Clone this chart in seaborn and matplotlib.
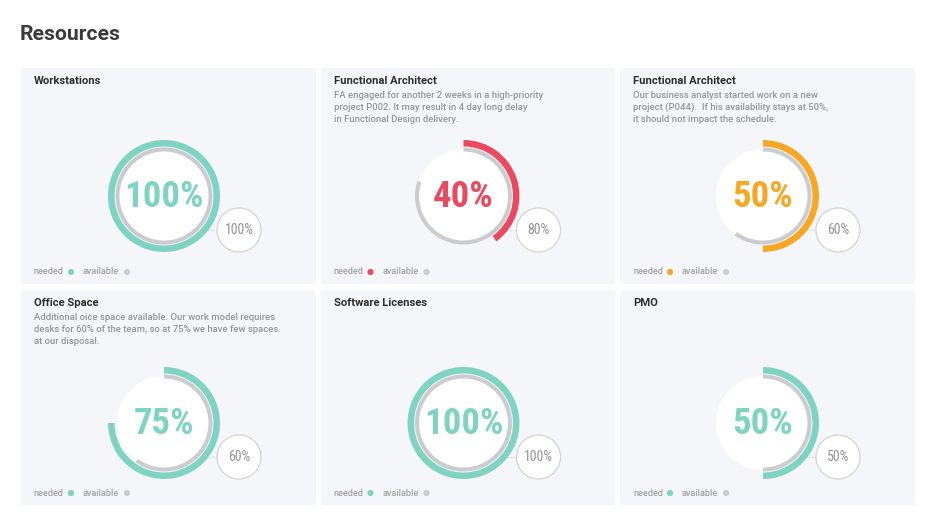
import seaborn as sns
import matplotlib.pyplot as plt
import pandas as pd
from matplotlib.patches import Circle, FancyBboxPatch

# Chart data
titles = ["Workstations", "Functional Architect", "Functional Architect",
          "Office Space", "Software Licenses", "PMO"]
notes = [
    [],
    ["FA engaged for another 2 weeks in a high-priority",
     "project P002. It may result in 4 day long delay",
     "in Functional Design delivery."],
    ["Our business analyst started work on a new",
     "project (P044).  If his availability stays at 50%,",
     "it should not impact the schedule."],
    ["Additional oice space available. Our work model requires",
     "desks for 60% of the team, so at 75% we have few spaces",
     "at our disposal."],
    [],
    [],
]
needed = [100, 40, 50, 75, 100, 50]
available = [100, 80, 60, 60, 100, 50]
status = ["ok", "critical", "warning", "ok", "ok", "ok"]

palette = {"ok": "#7fd4c1", "critical": "#ea4a60", "warning": "#f6a724"}
grey = "#cbccd0"

sns.set_theme(style="white")
plt.rcParams['font.family'] = ['Roboto', 'DejaVu Sans']
num_font = ['Roboto Condensed', 'Liberation Sans Narrow', 'DejaVu Sans']

W, H = 936, 528
fig = plt.figure(figsize=(W / 100, H / 100), dpi=100)
ax = fig.add_axes([0, 0, 1, 1])


def Y(y):
    # pixel row -> data y
    return H - y


panel_left = [21, 320.5, 620]
panel_top = [68, 290]
panel_h = [216, 215]
ring_y = [196, 423]

fig.text(20 / W, 1 - 34.5 / H, "Resources", fontsize=15.2, fontweight='bold',
         color='#3b3b3b', va='center', ha='left')

dots = []
for i, title in enumerate(titles):
    row, col = divmod(i, 3)
    px, py = panel_left[col], panel_top[row]
    color = palette[status[i]]

    ax.add_patch(FancyBboxPatch((px, Y(py + panel_h[row])), 295, panel_h[row],
                                boxstyle="round,pad=0,rounding_size=3",
                                fc='#f5f6fa', ec='none', zorder=0))

    ax.text(px + 13, Y(py + 13.5), title, fontsize=8.1, fontweight='bold',
            color='#2e2e2e', va='center', ha='left')
    for k, line in enumerate(notes[i]):
        ax.text(px + 13, Y(py + 28 + 11.7 * k), line, fontsize=6.8,
                fontweight='medium', color='#969696', va='center', ha='left')

    cx, cy = px + 143, ring_y[row]
    sx, sy = cx + 75, cy + 34

    # connector and small "available" bubble
    ax.plot([cx + 40, sx - 22], [Y(sy), Y(sy)], ls=':', lw=0.8,
            color='#c8c8c8', zorder=1)
    ax.add_patch(Circle((sx, Y(sy)), 22, fc='white', ec='#d3d3d3',
                        lw=0.9, zorder=2))
    ax.text(sx, Y(sy), f"{available[i]}%", fontsize=10, color='#939393',
            family=num_font, fontstretch='condensed', fontweight='normal',
            ha='center', va='center', zorder=5)

    # white inner disc
    ax.add_patch(Circle((cx, Y(cy)), 47, fc='white', ec='none', zorder=2))

    # needed ring (outer) and available ring (inner)
    w1, _ = ax.pie([needed[i] / 100], normalize=False, radius=56,
                   center=(cx, Y(cy)), startangle=90, counterclock=False,
                   colors=[color], wedgeprops=dict(width=6.5, linewidth=0))
    w2, _ = ax.pie([available[i] / 100], normalize=False, radius=48.5,
                   center=(cx, Y(cy)), startangle=90, counterclock=False,
                   colors=[grey], wedgeprops=dict(width=4, linewidth=0))
    for w in w1 + w2:
        w.set_zorder(3)

    ax.text(cx, Y(cy + 1), f"{needed[i]}%", fontsize=26.5, color=color,
            family=num_font, fontstretch='condensed', fontweight='bold',
            ha='center', va='center', zorder=5)

    # legend
    ly = py + panel_h[row] - 12
    ax.text(px + 13, Y(ly), "needed", fontsize=6.6, fontweight='medium',
            color='#a3a3a3', va='center', ha='left')
    ax.text(px + 62, Y(ly), "available", fontsize=6.6, fontweight='medium',
            color='#a3a3a3', va='center', ha='left')
    dots.append(dict(x=px + 50, y=Y(ly), kind=status[i]))
    dots.append(dict(x=px + 106, y=Y(ly), kind="avail"))

dot_df = pd.DataFrame(dots)
sns.scatterplot(data=dot_df, x="x", y="y", hue="kind",
                palette={**palette, "avail": grey}, s=20, edgecolor='none',
                legend=False, ax=ax, zorder=5)

ax.set_xlim(0, W)
ax.set_ylim(0, H)
ax.set_aspect('equal')
ax.axis('off')

fig.savefig('out.png', dpi=100, facecolor='white')
